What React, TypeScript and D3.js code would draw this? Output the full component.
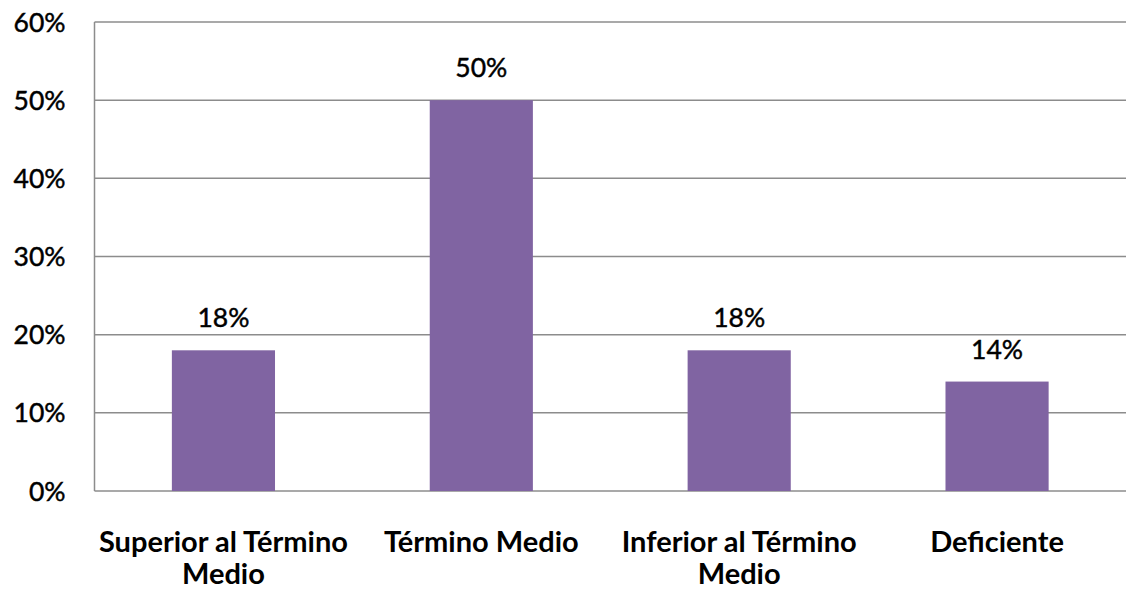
import * as d3 from "d3";

const categories = [
  ["Superior al Término", "Medio"],
  ["Término Medio"],
  ["Inferior al Término", "Medio"],
  ["Deficiente"],
];
const values = [0.18, 0.5, 0.18, 0.14];
const tickValues = [0, 0.1, 0.2, 0.3, 0.4, 0.5, 0.6];

const width = 1126;
const height = 597;
const margin = { top: 22, right: 0, bottom: 106, left: 94.5 };
const font = "Lato, 'Open Sans', sans-serif";

export default function App() {
  const innerW = width - margin.left - margin.right;
  const innerH = height - margin.top - margin.bottom;
  const keys = categories.map((c) => c.join(" "));

  const x = d3
    .scaleBand()
    .domain(keys)
    .range([0, innerW])
    .paddingInner(0.6)
    .paddingOuter(0.3);
  const y = d3.scaleLinear().domain([0, 0.6]).range([innerH, 0]);
  const fmt = d3.format(".0%");

  return (
    <svg
      width={width}
      height={height}
      style={{ position: "absolute", left: 0, top: 0, background: "#fff" }}
    >
      <g transform={`translate(${margin.left},${margin.top})`}>
        {tickValues.map((t) => (
          <g key={t}>
            <line
              x1={0}
              x2={innerW}
              y1={y(t)}
              y2={y(t)}
              stroke="#8c8c8c"
              strokeWidth={1.5}
            />
            <text
              x={-29}
              y={y(t)}
              dy="0.36em"
              textAnchor="end"
              fontFamily={font}
              fontSize={26.5}
              fill="#000"
              stroke="#000"
              strokeWidth={0.45}
            >
              {fmt(t)}
            </text>
          </g>
        ))}
        <line x1={0} x2={0} y1={0} y2={innerH} stroke="#8c8c8c" strokeWidth={1.5} />
        {values.map((v, i) => {
          const k = keys[i];
          const bx = x(k)!;
          const cx = bx + x.bandwidth() / 2;
          return (
            <g key={k}>
              <rect
                x={bx}
                y={y(v)}
                width={x.bandwidth()}
                height={innerH - y(v)}
                fill="#8064a2"
              />
              <text
                x={cx}
                y={y(v) - 23}
                textAnchor="middle"
                fontFamily={font}
                fontSize={26.5}
                fill="#000"
                stroke="#000"
                strokeWidth={0.45}
              >
                {fmt(v)}
              </text>
              <text
                x={cx}
                y={innerH + 61}
                textAnchor="middle"
                fontFamily={font}
                fontSize={29}
                fontWeight="bold"
                fill="#000"
              >
                {categories[i].map((line, j) => (
                  <tspan key={j} x={cx} dy={j === 0 ? 0 : 32}>
                    {line}
                  </tspan>
                ))}
              </text>
            </g>
          );
        })}
      </g>
    </svg>
  );
}
